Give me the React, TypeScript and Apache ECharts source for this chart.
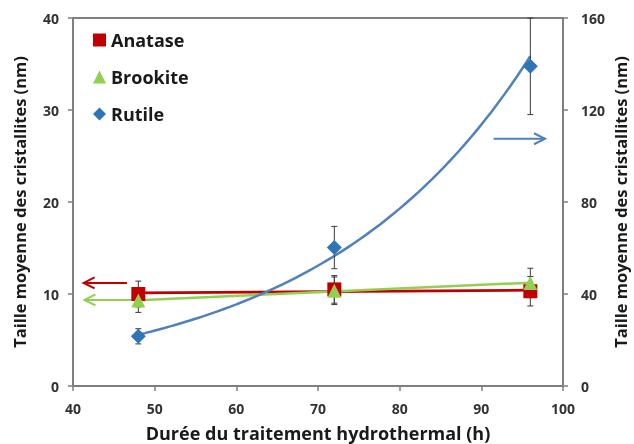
import React, { useEffect, useRef } from "react";
import * as echarts from "echarts";

const hours = [48, 72, 96];
const anatase = [10.0, 10.5, 10.3];
const anataseErr = [1.4, 1.5, 1.6];
const brookite = [9.3, 10.35, 11.2];
const brookiteErr = [1.3, 1.5, 1.6];
const rutile = [21.6, 60.2, 139];
const rutileErr = [3.3, 9.2, 21];
// arrows: [x1, y1, x2, y2]
const arrowAnatase = [46.6, 11.2, 41.3, 11.2];
const arrowBrookite = [47.6, 9.35, 41.4, 9.35];
const arrowRutile = [91.5, 107.5, 97.8, 107.5];

const RED = "#C00000";
const GREEN = "#92D050";
const BLUE = "#2E75B6";
const BLUE_LINE = "#4F81BD";

function linFit(xs: number[], ys: number[]) {
  const n = xs.length;
  const mx = xs.reduce((a, b) => a + b, 0) / n;
  const my = ys.reduce((a, b) => a + b, 0) / n;
  let sxy = 0, sxx = 0;
  for (let i = 0; i < n; i++) { sxy += (xs[i] - mx) * (ys[i] - my); sxx += (xs[i] - mx) ** 2; }
  const b = sxy / sxx;
  return (x: number) => my + b * (x - mx);
}
function expFit(xs: number[], ys: number[]) {
  const f = linFit(xs, ys.map((v) => Math.log(v)));
  return (x: number) => Math.exp(f(x));
}
function sample(f: (x: number) => number, a: number, b: number, n: number) {
  const out: number[][] = [];
  for (let i = 0; i <= n; i++) { const x = a + ((b - a) * i) / n; out.push([x, f(x)]); }
  return out;
}

const errRender = (params: any, api: any) => {
  const x = api.value(0), lo = api.value(1), hi = api.value(2);
  const p1 = api.coord([x, lo]);
  const p2 = api.coord([x, hi]);
  const st = { stroke: "#3a3a3a", lineWidth: 1 };
  return {
    type: "group",
    children: [
      { type: "line", shape: { x1: p1[0], y1: p1[1], x2: p2[0], y2: p2[1] }, style: st },
      { type: "line", shape: { x1: p1[0] - 3, y1: p1[1], x2: p1[0] + 3, y2: p1[1] }, style: st },
      { type: "line", shape: { x1: p2[0] - 3, y1: p2[1], x2: p2[0] + 3, y2: p2[1] }, style: st },
    ],
  };
};

const arrowRender = (color: string) => (params: any, api: any) => {
  const a = api.coord([api.value(0), api.value(1)]);
  const b = api.coord([api.value(2), api.value(3)]);
  const dir = Math.sign(b[0] - a[0]);
  const st = { stroke: color, lineWidth: 2, fill: null };
  return {
    type: "group",
    children: [
      { type: "line", shape: { x1: a[0], y1: a[1], x2: b[0], y2: b[1] }, style: st },
      { type: "polyline", shape: { points: [[b[0] - dir * 11, b[1] - 5.5], [b[0], b[1]], [b[0] - dir * 11, b[1] + 5.5]] }, style: st },
    ],
  };
};

export default function App() {
  const ref = useRef<HTMLDivElement>(null);
  useEffect(() => {
    if (!ref.current) return;
    const chart = echarts.init(ref.current, undefined, { renderer: "svg" });
    const fA = linFit(hours, anatase);
    const fB = linFit(hours, brookite);
    const fR = expFit(hours, rutile);
    const font = "Open Sans";
    const axisLabel = { fontFamily: font, fontWeight: "bold" as const, fontSize: 14, color: "#333" };
    const axisName = { fontFamily: font, fontWeight: "bold" as const, fontSize: 16.5, color: "#1a1a1a", lineHeight: 18 };
    const axisLine = { show: true, lineStyle: { color: "#7f7f7f", width: 1.5 } };
    const axisTick = { show: true, length: 5, lineStyle: { color: "#7f7f7f", width: 1.5 } };
    chart.setOption({
      animation: false,
      grid: { left: 73, right: 71, top: 18, bottom: 58, show: true, borderColor: "#555", borderWidth: 1.5, containLabel: false, outerBoundsMode: "none" },
      legend: {
        orient: "vertical",
        left: 88,
        top: 25,
        itemWidth: 13,
        itemHeight: 13,
        itemGap: 17,
        textStyle: { fontFamily: font, fontWeight: "bold", fontSize: 18, color: "#1a1a1a", lineHeight: 20 },
        data: [
          { name: "Anatase", icon: "rect" },
          { name: "Brookite", icon: "triangle" },
          { name: "Rutile", icon: "diamond" },
        ],
      },
      xAxis: {
        type: "value", min: 40, max: 100, interval: 10,
        name: "Durée du traitement hydrothermal (h)", nameLocation: "middle", nameGap: 37, nameMoveOverlap: false,
        nameTextStyle: { ...axisName, fontSize: 18, lineHeight: 20 },
        axisLine, axisTick, axisLabel: { ...axisLabel, margin: 15 }, splitLine: { show: false },
      },
      yAxis: [
        {
          type: "value", min: 0, max: 40, interval: 10, position: "left",
          name: "Taille moyenne des cristallites (nm)", nameLocation: "middle", nameGap: 45, nameMoveOverlap: false,
          nameTextStyle: axisName,
          axisLine, axisTick, axisLabel: { ...axisLabel, margin: 14 }, splitLine: { show: false },
        },
        {
          type: "value", min: 0, max: 160, interval: 40, position: "right",
          name: "Taille moyenne des cristallites (nm)", nameLocation: "middle", nameGap: 48, nameMoveOverlap: false,
          nameTextStyle: axisName,
          axisLine, axisTick, axisLabel: { ...axisLabel, margin: 18 }, splitLine: { show: false },
        },
      ],
      series: [
        { type: "line", name: "fitA", data: sample(fA, 48, 96, 1), yAxisIndex: 0, showSymbol: false, symbol: "none", lineStyle: { color: RED, width: 2.8 }, silent: true },
        { type: "line", name: "fitB", data: sample(fB, 48, 96, 1), yAxisIndex: 0, showSymbol: false, symbol: "none", lineStyle: { color: GREEN, width: 2.5 }, silent: true },
        { type: "line", name: "fitR", data: sample(fR, 48, 96, 60), yAxisIndex: 1, showSymbol: false, symbol: "none", lineStyle: { color: BLUE_LINE, width: 2.5 }, silent: true },
        { type: "custom", name: "errA", yAxisIndex: 0, renderItem: errRender, data: hours.map((h, i) => [h, anatase[i] - anataseErr[i], anatase[i] + anataseErr[i]]), encode: { x: 0, y: [1, 2] }, z: 5 },
        { type: "custom", name: "errB", yAxisIndex: 0, renderItem: errRender, data: hours.map((h, i) => [h, brookite[i] - brookiteErr[i], brookite[i] + brookiteErr[i]]), encode: { x: 0, y: [1, 2] }, z: 5 },
        { type: "custom", name: "errR", yAxisIndex: 1, renderItem: errRender, data: hours.map((h, i) => [h, rutile[i] - rutileErr[i], rutile[i] + rutileErr[i]]), encode: { x: 0, y: [1, 2] }, z: 5 },
        { type: "scatter", name: "Anatase", yAxisIndex: 0, symbol: "rect", symbolSize: 14, itemStyle: { color: RED, opacity: 1 }, data: hours.map((h, i) => [h, anatase[i]]), z: 6 },
        { type: "scatter", name: "Brookite", yAxisIndex: 0, symbol: "triangle", symbolSize: 14, itemStyle: { color: GREEN, opacity: 1 }, data: hours.map((h, i) => [h, brookite[i]]), z: 7 },
        { type: "scatter", name: "Rutile", yAxisIndex: 1, symbol: "diamond", symbolSize: 15, itemStyle: { color: BLUE, opacity: 1 }, data: hours.map((h, i) => [h, rutile[i]]), z: 6 },
        { type: "custom", name: "arrA", yAxisIndex: 0, renderItem: arrowRender(RED), data: [arrowAnatase], encode: { x: [0, 2], y: [1, 3] }, silent: true },
        { type: "custom", name: "arrB", yAxisIndex: 0, renderItem: arrowRender(GREEN), data: [arrowBrookite], encode: { x: [0, 2], y: [1, 3] }, silent: true },
        { type: "custom", name: "arrR", yAxisIndex: 1, renderItem: arrowRender(BLUE_LINE), data: [arrowRutile], encode: { x: [0, 2], y: [1, 3] }, silent: true },
      ],
    });
    return () => chart.dispose();
  }, []);
  return <div ref={ref} style={{ position: "fixed", left: 0, top: 0, width: 634, height: 444 }} />;
}
